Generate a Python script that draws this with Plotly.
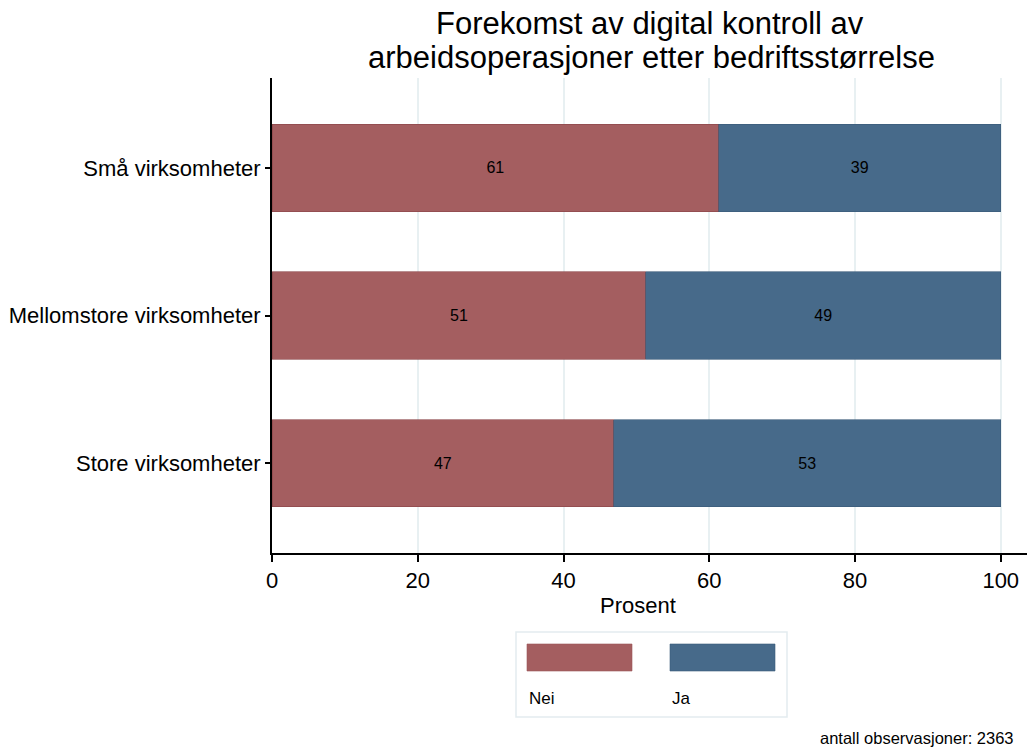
import plotly.graph_objects as go

categories = ["Store virksomheter", "Mellomstore virksomheter", "Små virksomheter"]
nei_values = [46.9, 51.3, 61.3]
ja_values = [53.1, 48.7, 38.7]
nei_labels = ["47", "51", "61"]
ja_labels = ["53", "49", "39"]
x_ticks = [0, 20, 40, 60, 80, 100]

RED = "#a45e60"
BLUE = "#476a8a"
FONT = "Liberation Sans, Arial, sans-serif"

fig = go.Figure()
fig.add_trace(go.Bar(
    y=categories, x=nei_values, orientation="h", name="Nei",
    marker=dict(color=RED, line=dict(color="#8a4448", width=0.6)),
    text=nei_labels, textposition="inside", insidetextanchor="middle",
    textfont=dict(color="black", size=16, family=FONT), width=0.59,
    showlegend=False,
))
fig.add_trace(go.Bar(
    y=categories, x=ja_values, orientation="h", name="Ja",
    marker=dict(color=BLUE, line=dict(color="#3a5a78", width=0.6)),
    text=ja_labels, textposition="inside", insidetextanchor="middle",
    textfont=dict(color="black", size=16, family=FONT), width=0.59,
    showlegend=False,
))

PL, PR, PT, PB = 272, 1027, 78, 553
W, H = 1027, 747

def px(x):
    return (x - PL) / (PR - PL)

def py(y):
    return (PB - y) / (PB - PT)

shapes = [
    dict(type="rect", xref="paper", yref="paper", x0=px(516), x1=px(787), y0=py(632), y1=py(717),
         line=dict(color="#e3ecef", width=1.5), fillcolor="white", layer="below"),
    dict(type="rect", xref="paper", yref="paper", x0=px(527), x1=px(632), y0=py(644), y1=py(671),
         line=dict(color="#9a5558", width=0.6), fillcolor=RED),
    dict(type="rect", xref="paper", yref="paper", x0=px(670), x1=px(775), y0=py(644), y1=py(671),
         line=dict(color="#3a5a78", width=0.6), fillcolor=BLUE),
]
annotations = [
    dict(text="Forekomst av digital kontroll av", xref="paper", yref="paper", x=px(650), y=py(24),
         xanchor="center", yanchor="middle", showarrow=False,
         font=dict(size=31, color="black", family=FONT)),
    dict(text="arbeidsoperasjoner etter bedriftsstørrelse", xref="paper", yref="paper", x=px(651), y=py(57),
         xanchor="center", yanchor="middle", showarrow=False,
         font=dict(size=31, color="black", family=FONT)),
    dict(text="Prosent", xref="paper", yref="paper", x=px(638), y=py(605),
         xanchor="center", yanchor="middle", showarrow=False,
         font=dict(size=22, color="black", family=FONT)),
    dict(text="Nei", xref="paper", yref="paper", x=px(527), y=py(698), xanchor="left", yanchor="middle",
         showarrow=False, font=dict(size=17, color="black", family=FONT)),
    dict(text="Ja", xref="paper", yref="paper", x=px(670), y=py(698), xanchor="left", yanchor="middle",
         showarrow=False, font=dict(size=17, color="black", family=FONT)),
    dict(text="antall observasjoner: 2363", xref="paper", yref="paper", x=px(1016), y=py(738),
         xanchor="right", yanchor="middle", showarrow=False,
         font=dict(size=16.5, color="black", family=FONT)),
]

fig.update_layout(
    width=W, height=H,
    barmode="stack",
    paper_bgcolor="white", plot_bgcolor="white",
    margin=dict(l=PL, r=W - PR, t=PT, b=H - PB, pad=0),
    font=dict(family=FONT, color="black"),
    xaxis=dict(
        range=[0, 103.6], tickvals=x_ticks, ticktext=[str(v) for v in x_ticks],
        showgrid=True, gridcolor="#e8f0f2", gridwidth=1.5,
        showline=True, linecolor="black", linewidth=2,
        ticks="outside", ticklen=7, tickwidth=2, tickcolor="black",
        tickfont=dict(size=22, family=FONT), zeroline=False,
        fixedrange=True,
    ),
    yaxis=dict(
        range=[-0.61, 2.61], categoryorder="array", categoryarray=categories,
        showgrid=False, showline=True, linecolor="black", linewidth=2,
        ticks="outside", ticklen=5, tickwidth=1.5, tickcolor="black",
        tickfont=dict(size=22, family=FONT), ticklabelstandoff=0,
        fixedrange=True,
    ),
    shapes=shapes,
    annotations=annotations,
)

fig.write_html(
    "out.html",
    config={"displayModeBar": False},
    post_script="document.body.style.margin='0';document.body.style.overflow='hidden';",
)
